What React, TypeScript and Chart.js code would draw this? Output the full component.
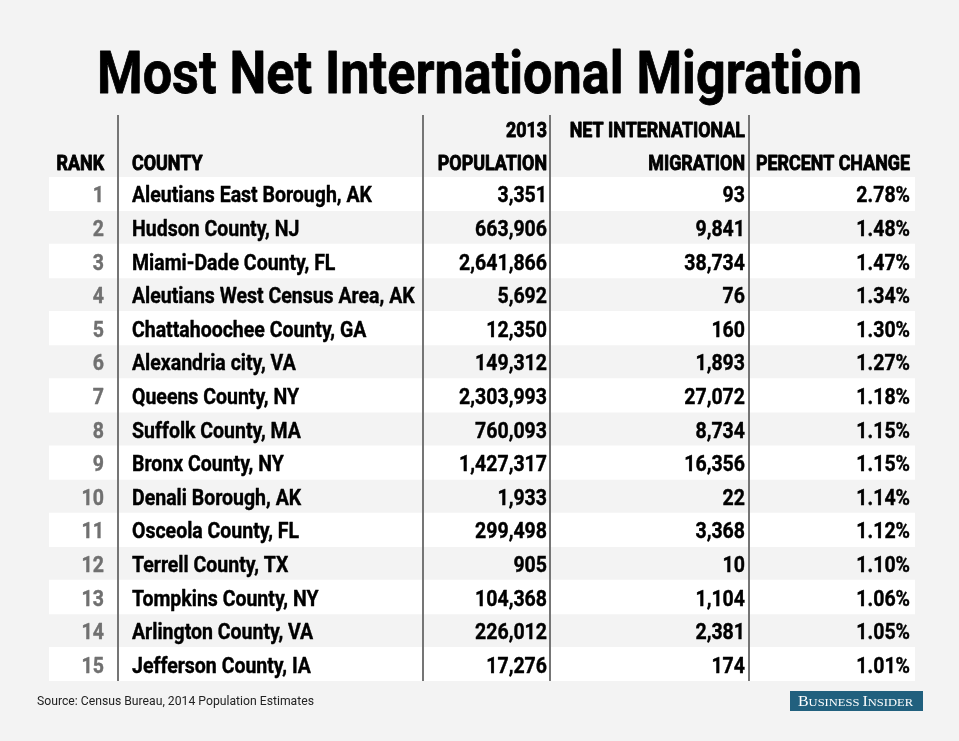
import React, { useEffect, useRef } from "react";
import { Chart, registerables } from "chart.js";

Chart.register(...registerables);

// ---------- data ----------
const TITLE = "Most Net International Migration";
const SOURCE = "Source: Census Bureau, 2014 Population Estimates";
const BRAND = "Business Insider";

const HEADER_RANK = ["", "RANK"];
const HEADER_COUNTY = ["", "COUNTY"];
const HEADER_POPULATION = ["2013", "POPULATION"];
const HEADER_MIGRATION = ["NET INTERNATIONAL", "MIGRATION"];
const HEADER_PERCENT = ["", "PERCENT CHANGE"];

const ranks = [1, 2, 3, 4, 5, 6, 7, 8, 9, 10, 11, 12, 13, 14, 15];
const counties = [
  "Aleutians East Borough, AK",
  "Hudson County, NJ",
  "Miami-Dade County, FL",
  "Aleutians West Census Area, AK",
  "Chattahoochee County, GA",
  "Alexandria city, VA",
  "Queens County, NY",
  "Suffolk County, MA",
  "Bronx County, NY",
  "Denali Borough, AK",
  "Osceola County, FL",
  "Terrell County, TX",
  "Tompkins County, NY",
  "Arlington County, VA",
  "Jefferson County, IA",
];
const population = [3351, 663906, 2641866, 5692, 12350, 149312, 2303993, 760093, 1427317, 1933, 299498, 905, 104368, 226012, 17276];
const migration = [93, 9841, 38734, 76, 160, 1893, 27072, 8734, 16356, 22, 3368, 10, 1104, 2381, 174];
const percentChange = [2.78, 1.48, 1.47, 1.34, 1.3, 1.27, 1.18, 1.15, 1.15, 1.14, 1.12, 1.1, 1.06, 1.05, 1.01];

// ---------- layout / style ----------
const TABLE_UNITS = 866;
const BG = "#f3f3f3";
const FONT = "Roboto";
const fmtInt = (v: number) => v.toLocaleString("en-US");
const fmtPct = (v: number) => v.toFixed(2) + "%";

type Col = { x: number; align: CanvasTextAlign; header: string[]; cell: (i: number) => string; color: string };
const columns: Col[] = [
  { x: 55, align: "right", header: HEADER_RANK, cell: (i) => String(ranks[i]), color: "#707070" },
  { x: 83, align: "left", header: HEADER_COUNTY, cell: (i) => counties[i], color: "#000" },
  { x: 498, align: "right", header: HEADER_POPULATION, cell: (i) => fmtInt(population[i]), color: "#000" },
  { x: 696, align: "right", header: HEADER_MIGRATION, cell: (i) => fmtInt(migration[i]), color: "#000" },
  { x: 861, align: "right", header: HEADER_PERCENT, cell: (i) => fmtPct(percentChange[i]), color: "#000" },
];
const dividers = [69, 374, 501, 700];

function drawScaled(
  ctx: CanvasRenderingContext2D,
  text: string,
  x: number,
  y: number,
  align: CanvasTextAlign,
  font: string,
  color: string,
  sx: number,
  stroke = 0
) {
  ctx.save();
  ctx.font = font;
  ctx.fillStyle = color;
  ctx.textAlign = align;
  ctx.textBaseline = "alphabetic";
  ctx.translate(x, y);
  ctx.scale(sx, 1);
  ctx.fillText(text, 0, 0);
  if (stroke > 0) {
    ctx.strokeStyle = color;
    ctx.lineWidth = stroke;
    ctx.lineJoin = "round";
    ctx.strokeText(text, 0, 0);
  }
  ctx.restore();
}

function fitScale(ctx: CanvasRenderingContext2D, text: string, font: string, target: number) {
  ctx.save();
  ctx.font = font;
  const w = ctx.measureText(text).width;
  ctx.restore();
  return w > 0 ? target / w : 1;
}

const tablePlugin = {
  id: "tablePlugin",
  beforeDraw(chart: any) {
    const { ctx, width, height } = chart;
    ctx.save();
    ctx.fillStyle = BG;
    ctx.fillRect(0, 0, width, height);
    ctx.restore();
  },
  afterDatasetsDraw(chart: any) {
    const { ctx, chartArea, scales } = chart;
    const x = scales.x;
    const y = scales.y;
    const cellFont = `bold 22px ${FONT}`;
    const headFont = `bold 20.5px ${FONT}`;
    const sxCell = fitScale(ctx, "Aleutians East Borough, AK", cellFont, 240);
    const sxHead = fitScale(ctx, "PERCENT CHANGE", headFont, 154);

    // dividers
    ctx.save();
    ctx.strokeStyle = "#757575";
    ctx.lineWidth = 2;
    dividers.forEach((d) => {
      const px = Math.round(x.getPixelForValue(d));
      ctx.beginPath();
      ctx.moveTo(px, chartArea.top - 62);
      ctx.lineTo(px, chartArea.bottom);
      ctx.stroke();
    });
    ctx.restore();

    // headers
    const headBase = [chartArea.top - 40, chartArea.top - 7];
    columns.forEach((c) => {
      c.header.forEach((h, li) => {
        if (!h) return;
        drawScaled(ctx, h, x.getPixelForValue(c.x), headBase[li], c.align, headFont, "#000", sxHead, 0.9);
      });
    });

    // cells
    ranks.forEach((_, i) => {
      const cy = y.getPixelForValue(i);
      columns.forEach((c) => {
        drawScaled(ctx, c.cell(i), x.getPixelForValue(c.x), cy + 8.5, c.align, cellFont, c.color, sxCell, 0.4);
      });
    });
  },
  afterDraw(chart: any) {
    const { ctx } = chart;
    // title
    const titleFont = `bold 60px ${FONT}`;
    const sxTitle = fitScale(ctx, TITLE, titleFont, 765);
    drawScaled(ctx, TITLE, 479.5, 93, "center", titleFont, "#000", sxTitle, 0.8);

    // source
    const srcFont = `13px ${FONT}`;
    const sxSrc = fitScale(ctx, SOURCE, srcFont, 277);
    drawScaled(ctx, SOURCE, 37, 705, "left", srcFont, "#222", sxSrc);

    // brand logo
    ctx.save();
    ctx.fillStyle = "#21607e";
    ctx.fillRect(790, 691, 133, 20);
    ctx.restore();
    const bigFont = `14px "Liberation Serif"`;
    const smallFont = `11px "Liberation Serif"`;
    const words = BRAND.toUpperCase().split(" ");
    ctx.save();
    const pieces: { t: string; f: string }[] = [];
    words.forEach((w, wi) => {
      pieces.push({ t: w[0], f: bigFont });
      pieces.push({ t: w.slice(1) + (wi < words.length - 1 ? " " : ""), f: smallFont });
    });
    let total = 0;
    pieces.forEach((p) => {
      ctx.font = p.f;
      total += ctx.measureText(p.t).width;
    });
    const sx = 115 / total;
    let cx = 798;
    ctx.fillStyle = "#ffffff";
    ctx.textBaseline = "alphabetic";
    ctx.textAlign = "left";
    pieces.forEach((p) => {
      ctx.font = p.f;
      const w = ctx.measureText(p.t).width;
      ctx.save();
      ctx.translate(cx, 706);
      ctx.scale(sx, 1);
      ctx.fillText(p.t, 0, 0);
      ctx.restore();
      cx += w * sx;
    });
    ctx.restore();
  },
};

export default function App() {
  const ref = useRef<HTMLCanvasElement | null>(null);

  useEffect(() => {
    document.body.style.margin = "0";
    document.body.style.background = BG;
    const canvas = ref.current;
    if (!canvas) return;
    const chart = new Chart(canvas, {
      type: "bar",
      data: {
        labels: ranks.map(String),
        datasets: [
          {
            label: "rows",
            data: ranks.map((_, i) => (i % 2 === 0 ? [0, TABLE_UNITS] : null)) as any,
            backgroundColor: "#ffffff",
            borderWidth: 0,
            barPercentage: 1,
            categoryPercentage: 1,
          },
        ],
      },
      options: {
        indexAxis: "y",
        responsive: false,
        animation: false,
        devicePixelRatio: 1,
        layout: { padding: { left: 49, right: 44, top: 177, bottom: 60 } },
        plugins: { legend: { display: false }, tooltip: { enabled: false }, title: { display: false } },
        scales: {
          x: { type: "linear", min: 0, max: TABLE_UNITS, display: false },
          y: { type: "category", display: false, offset: true },
        },
      },
      plugins: [tablePlugin],
    });
    return () => chart.destroy();
  }, []);

  return (
    <div style={{ width: 959, height: 741 }}>
      <canvas ref={ref} width={959} height={741} />
    </div>
  );
}
